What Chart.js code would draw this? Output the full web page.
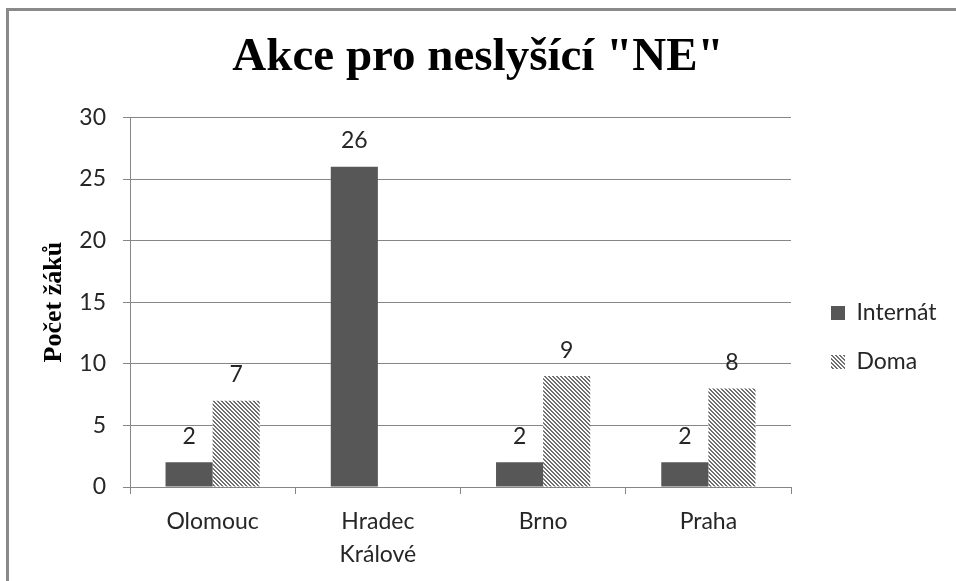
<!DOCTYPE html>
<html lang="cs">
<head>
<meta charset="utf-8">
<title>Akce pro neslyšící "NE"</title>
<script src="https://cdn.jsdelivr.net/npm/chart.js@4/dist/chart.umd.min.js"></script>
<style>
  html, body { margin: 0; padding: 0; background: #fff; overflow: hidden; }
  #wrap { position: relative; width: 956px; height: 581px; }
  #chart { position: absolute; left: 0; top: 0; }
  #frame {
    position: absolute; left: 6px; top: 8px; width: 1000px; height: 700px;
    border: 3px solid #8a8a8a; pointer-events: none;
  }
</style>
</head>
<body>
<div id="wrap">
  <canvas id="chart" width="956" height="581"></canvas>
  <div id="frame"></div>
</div>
<script>
const categories = ['Olomouc', ['Hradec', 'Králové'], 'Brno', 'Praha'];
const internatValues = [2, 26, 2, 2];
const domaValues = [7, null, 9, 8];
const yTicks = { min: 0, max: 30, step: 5 };

const TICK_FONT = { family: 'Lato, sans-serif', size: 23 };

// diagonal hatch like the Excel "wide downward diagonal" fill
function makeHatch() {
  const tile = document.createElement('canvas');
  tile.width = 4;
  tile.height = 4;
  const tctx = tile.getContext('2d');
  tctx.fillStyle = '#ffffff';
  tctx.fillRect(0, 0, 4, 4);
  tctx.fillStyle = '#707070';
  for (let y = 0; y < 4; y += 1) {
    for (let x = 0; x < 4; x += 1) {
      const d = (((x - y) % 4) + 4) % 4;
      if (d === 0 || d === 1) tctx.fillRect(x, y, 1, 1);
    }
  }
  return tctx.createPattern(tile, 'repeat');
}

const chartContext = document.getElementById('chart').getContext('2d');
const hatch = makeHatch();

const barValueLabels = {
  id: 'barValueLabels',
  afterDatasetsDraw(chart) {
    const { ctx } = chart;
    ctx.save();
    ctx.font = '23px Lato, sans-serif';
    ctx.fillStyle = '#262626';
    ctx.textAlign = 'center';
    ctx.textBaseline = 'middle';
    chart.data.datasets.forEach((dataset, datasetIndex) => {
      chart.getDatasetMeta(datasetIndex).data.forEach((bar, index) => {
        const value = dataset.data[index];
        if (value === null || value === undefined) return;
        ctx.fillText(String(value), bar.x, bar.y - 26);
      });
    });
    ctx.restore();
  },
};

// keep the legend in a fixed column right of the plot
const legendPlacement = {
  id: 'legendPlacement',
  beforeLayout(chart) {
    const legend = chart.legend;
    if (!legend || legend._fixedFit) return;
    const originalFit = legend.fit;
    legend.fit = function fit() {
      originalFit.call(this);
      this.width = 165;
    };
    legend._fixedFit = true;
  },
  afterLayout(chart) {
    const legend = chart.legend;
    legend.left = 805;
    legend.right = 956;
    legend.top = 118;
    legend.bottom = 557;
  },
};

const chart = new Chart(chartContext, {
  type: 'bar',
  data: {
    labels: categories,
    datasets: [
      {
        label: 'Internát',
        data: internatValues,
        backgroundColor: '#575757',
        borderWidth: 0,
        categoryPercentage: 0.57,
        barPercentage: 1.0,
      },
      {
        label: 'Doma',
        data: domaValues,
        backgroundColor: hatch,
        borderWidth: 0,
        categoryPercentage: 0.57,
        barPercentage: 1.0,
      },
    ],
  },
  options: {
    responsive: false,
    animation: false,
    layout: { padding: 0 },
    plugins: {
      title: {
        display: true,
        text: 'Akce pro neslyšící "NE"',
        color: '#000',
        font: { family: '"Liberation Serif", "Times New Roman", serif', size: 47, weight: 'bold', lineHeight: 1.2 },
        padding: { top: 30, bottom: 31 },
      },
      legend: {
        display: true,
        position: 'right',
        fullSize: false,
        labels: {
          boxWidth: 14,
          boxHeight: 14,
          padding: 26,
          color: '#262626',
          font: TICK_FONT,
        },
      },
      tooltip: { enabled: false },
    },
    scales: {
      x: {
        grid: {
          display: true,
          drawOnChartArea: false,
          drawTicks: true,
          tickLength: 7,
          color: '#868686',
        },
        border: { display: true, color: '#868686', width: 1 },
        ticks: {
          color: '#262626',
          font: { ...TICK_FONT, lineHeight: 1.435 },
          padding: 11,
          maxRotation: 0,
          autoSkip: false,
        },
        afterFit(scale) {
          scale.height = 94;
        },
      },
      y: {
        min: yTicks.min,
        max: yTicks.max,
        grid: {
          color: '#868686',
          tickLength: 7,
          drawTicks: true,
        },
        border: { display: true, color: '#868686', width: 1 },
        ticks: {
          stepSize: yTicks.step,
          color: '#262626',
          font: TICK_FONT,
          padding: 17,
        },
        title: {
          display: true,
          text: 'Počet žáků',
          color: '#000',
          font: { family: '"Liberation Serif", "Times New Roman", serif', size: 26, weight: 'bold', lineHeight: 1.2 },
          padding: { top: 39, bottom: 10 },
        },
        afterFit(scale) {
          scale.width = 130;
        },
      },
    },
  },
  plugins: [barValueLabels, legendPlacement],
});
</script>
</body>
</html>
